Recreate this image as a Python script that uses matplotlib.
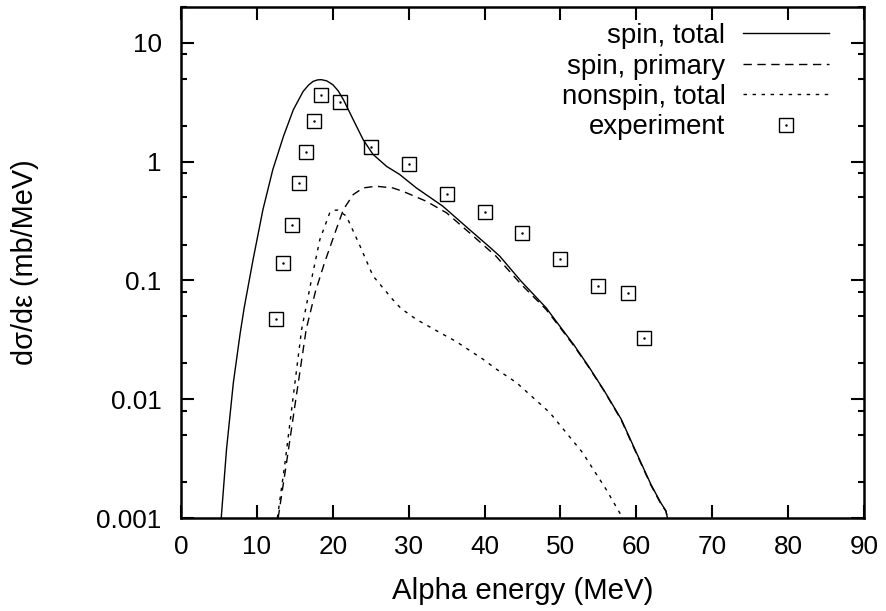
import matplotlib
matplotlib.use("Agg")
import matplotlib.pyplot as plt
from matplotlib.ticker import LogLocator, FuncFormatter, MultipleLocator, NullFormatter
from matplotlib.lines import Line2D

plt.rcParams['font.family'] = ['Liberation Sans', 'DejaVu Sans']

# spin, total
spin_tot_e = [5.3, 6.0, 6.9, 7.8, 8.33, 9.5, 10.8, 12.1, 13.5, 14.8, 16.1, 16.8, 17.4, 18.0,
              18.5, 19.2, 20.0, 20.7, 21.4, 22.7, 24.0, 25.3, 27.1, 28.8, 31.0, 34.5, 38.0,
              40.7, 42.0, 44.8, 48.1, 49.9, 51.8, 53.8, 55.8, 58.0, 60.0, 61.9, 63.2, 63.9,
              64.1]
spin_tot_v = [0.001, 0.0038, 0.0138, 0.036, 0.059, 0.15, 0.395, 0.857, 1.63, 2.73, 3.9, 4.4,
              4.73, 4.87, 4.89, 4.78, 4.44, 3.95, 3.32, 2.25, 1.53, 1.15, 0.91, 0.78, 0.601,
              0.421, 0.268, 0.19, 0.160, 0.0986, 0.0589, 0.0413, 0.0285, 0.0185, 0.0117, 0.0068,
              0.00356, 0.00193, 0.00135, 0.00115, 0.001]

# spin, primary
spin_pri_e = [12.8, 13.9, 15.2, 16.5, 17.7, 18.9, 20.3, 21.4, 22.7, 24.0, 25.7, 27.9, 29.3,
              32.3, 35.0, 38.0, 41.5, 44.8, 48.1, 49.9, 51.8, 53.8, 55.8, 58.0, 60.0,
              61.9, 63.2, 63.9, 64.1]
spin_pri_v = [0.001, 0.0029, 0.0107, 0.0388, 0.08, 0.14, 0.252, 0.395, 0.528, 0.6, 0.62, 0.6, 0.56,
              0.464, 0.37, 0.252, 0.16, 0.093, 0.057, 0.0405, 0.028, 0.0183, 0.0116, 0.0067, 0.0035,
              0.0019, 0.00133, 0.00114, 0.001]

# nonspin, total
nonspin_e = [12.7, 13.7, 14.8, 15.9, 17.2, 18.3, 19.6, 20.2, 20.7, 21.8, 23.6, 25.3, 27.9, 29.0,
             31.0, 34.5, 36.1, 39.8, 41.5, 44.2, 48.6, 52.9, 56.0, 58.2]
nonspin_v = [0.001, 0.0029, 0.0107, 0.0388, 0.102, 0.221, 0.37, 0.39, 0.39, 0.347, 0.194, 0.109,
             0.069, 0.058, 0.047, 0.0352, 0.031, 0.0217, 0.018, 0.0138, 0.0077, 0.00356, 0.00175,
             0.001]

# experiment
exp_e = [12.5, 13.5, 14.6, 15.5, 16.5, 17.5, 18.5, 21.0, 25.0, 30.0, 35.0, 40.0, 45.0,
         50.0, 55.0, 58.9, 61.0]
exp_v = [0.047, 0.141, 0.290, 0.662, 1.20, 2.18, 3.66, 3.18, 1.32, 0.962, 0.535, 0.373, 0.252,
         0.152, 0.0896, 0.0788, 0.033]

fig = plt.figure(figsize=(8.87, 6.11), dpi=100)
ax = fig.add_axes([181/887, 1 - 518/611, (864 - 181)/887, (518 - 7)/611])

ax.plot(spin_tot_e, spin_tot_v, color='black', lw=1.0, label='spin, total')
ax.plot(spin_pri_e, spin_pri_v, color='black', lw=1.0, dashes=(6, 4), label='spin, primary')
ax.plot(nonspin_e, nonspin_v, color='black', lw=1.0, dashes=(2.5, 4), label='nonspin, total')
ax.plot(exp_e, exp_v, ls='none', marker='s', ms=10, mfc='none', mec='black', mew=1.0)
ax.plot(exp_e, exp_v, ls='none', marker='.', ms=1.5, color='black')

ax.set_yscale('log')
ax.set_xlim(0, 90)
ax.set_ylim(0.001, 20)
ax.xaxis.set_major_locator(MultipleLocator(10))
ax.yaxis.set_major_locator(LogLocator(base=10, numticks=10))
ax.yaxis.set_minor_locator(LogLocator(base=10, subs=(2, 5, 8), numticks=10))
ax.yaxis.set_minor_formatter(NullFormatter())
ax.yaxis.set_major_formatter(FuncFormatter(lambda v, p: '%g' % v))

ax.tick_params(which='both', direction='in', top=True, right=True, width=1.5)
ax.tick_params(which='major', length=9.5, labelsize=18.8)
ax.tick_params(which='minor', length=4.5)
ax.tick_params(axis='y', pad=14)
ax.tick_params(axis='x', pad=12)
for s in ax.spines.values():
    s.set_linewidth(1.8)

ax.set_xlabel('Alpha energy (MeV)', fontsize=21.2, labelpad=13)
ax.set_ylabel('dσ/dε (mb/MeV)', fontsize=20.8, labelpad=41)

h_exp = (Line2D([], [], ls='none', marker='s', ms=10, mfc='none', mec='black', mew=1.0),
         Line2D([], [], ls='none', marker='.', ms=1.5, color='black'))
handles, labels = ax.get_legend_handles_labels()
handles.append(h_exp)
labels.append('experiment')
ax.legend(handles, labels, loc='upper right', bbox_to_anchor=(0.965, 0.99), fontsize=19.9,
          frameon=False, markerfirst=False, handlelength=3.1, handletextpad=0.65,
          labelspacing=0.16, borderaxespad=0)

fig.savefig('out.png', dpi=100)
